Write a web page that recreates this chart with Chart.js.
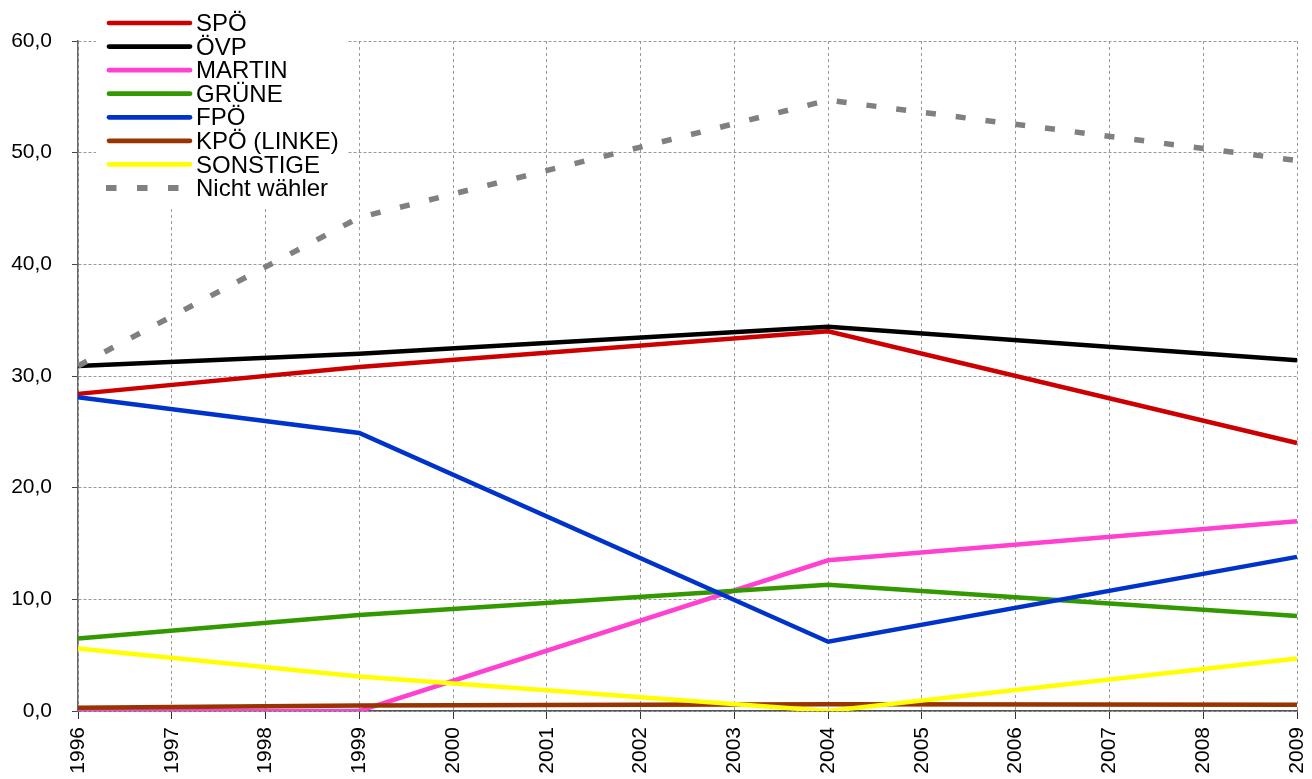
<!DOCTYPE html>
<html>
<head>
<meta charset="utf-8">
<script src="https://cdn.jsdelivr.net/npm/chart.js@4"></script>
<style>
  body { margin: 0; background: #fff; }
</style>
</head>
<body>
<canvas id="lineChart" width="1312" height="779"></canvas>
<script>
const years = ["1996", "1997", "1998", "1999", "2000", "2001", "2002",
  "2003", "2004", "2005", "2006", "2007", "2008", "2009"];
const electionYears = ["1996", "1999", "2004", "2009"];

const spo = [28.4, 30.8, 34.0, 24.0];
const ovp = [30.9, 32.0, 34.4, 31.4];
const martin = [0.0, 0.0, 13.5, 17.0];
const grune = [6.5, 8.6, 11.3, 8.5];
const fpo = [28.1, 24.9, 6.2, 13.8];
const kpo = [0.3, 0.5, 0.6, 0.55];
const sonstige = [5.6, 3.1, 0.0, 4.7];
const nichtWaehler = [30.9, 44.2, 54.7, 49.3];

const yTicks = [0, 10, 20, 30, 40, 50, 60];

// spread the election values over the yearly axis, gaps between them
function spread(values) {
  return years.map(y => {
    const i = electionYears.indexOf(y);
    return i >= 0 ? values[i] : null;
  });
}

const series = [
  { label: "SPÖ", data: spo, color: "#cc0000" },
  { label: "ÖVP", data: ovp, color: "#000000" },
  { label: "MARTIN", data: martin, color: "#ff40d0" },
  { label: "GRÜNE", data: grune, color: "#339900" },
  { label: "FPÖ", data: fpo, color: "#0033cc" },
  { label: "KPÖ (LINKE)", data: kpo, color: "#993300" },
  { label: "SONSTIGE", data: sonstige, color: "#ffff00" },
  { label: "Nicht wähler", data: nichtWaehler, color: "#808080", dash: [10, 20] },
];

const FONT = "'Liberation Sans', Arial, sans-serif";

// legend drawn over the top left corner of the plot
const boxLegend = {
  id: "boxLegend",
  afterDraw(chart) {
    const ctx = chart.ctx;
    ctx.save();
    ctx.fillStyle = "#fff";
    ctx.fillRect(96, 4, 252, 202);
    chart.data.datasets.forEach((ds, i) => {
      const y = 23 + i * 23.57;
      ctx.beginPath();
      ctx.strokeStyle = ds.borderColor;
      if (ds.borderDash.length) {
        ctx.lineWidth = 6;
        ctx.lineCap = "butt";
        ctx.setLineDash(ds.borderDash.map(v => v + 0.5));
        ctx.moveTo(106, y);
        ctx.lineTo(190, y);
      } else {
        ctx.lineWidth = 4.7;
        ctx.lineCap = "round";
        ctx.setLineDash([]);
        ctx.moveTo(109, y);
        ctx.lineTo(190, y);
      }
      ctx.stroke();
      ctx.fillStyle = "#000";
      ctx.font = "24px " + FONT;
      ctx.textBaseline = "middle";
      ctx.textAlign = "left";
      ctx.fillText(ds.label, 196, y + 1.5);
    });
    ctx.restore();
  },
};

new Chart(document.getElementById("lineChart"), {
  type: "line",
  data: {
    labels: years,
    datasets: series.map((s, i) => ({
      label: s.label,
      data: spread(s.data),
      borderColor: s.color,
      backgroundColor: s.color,
      borderWidth: s.dash ? 5.5 : 4.5,
      borderDash: s.dash || [],
      borderCapStyle: "butt",
      borderJoinStyle: "miter",
      pointRadius: 0,
      tension: 0,
      spanGaps: true,
      order: -i,
    })),
  },
  options: {
    responsive: false,
    animation: false,
    devicePixelRatio: 1,
    layout: { padding: { top: 41, right: 15, left: 0, bottom: 0 } },
    plugins: {
      legend: { display: false },
      tooltip: { enabled: false },
    },
    scales: {
      x: {
        offset: false,
        grid: {
          color: "#999",
          lineWidth: 1,
          tickColor: "#333",
          tickLength: 8,
        },
        border: { color: "#555", width: 1.5, dash: [3, 3] },
        ticks: {
          color: "#000",
          font: { family: FONT, size: 21 },
          maxRotation: 90,
          minRotation: 90,
          autoSkip: false,
          padding: 8,
        },
        afterFit(scale) {
          scale.height = 68;
          scale.paddingLeft = 0;
          scale.paddingRight = 0;
        },
      },
      y: {
        min: 0,
        max: 60,
        afterBuildTicks(scale) { scale.ticks = yTicks.map(v => ({ value: v })); },
        grid: {
          color: "#999",
          lineWidth: 1,
          tickColor: "#444",
          tickLength: 6,
        },
        border: { color: "#666", width: 1.5, dash: [3, 2] },
        ticks: {
          color: "#000",
          font: { family: FONT, size: 21 },
          padding: 20,
          callback: v => v.toFixed(1).replace(".", ","),
        },
        afterFit(scale) {
          scale.width = 78;
          scale.paddingTop = 0;
          scale.paddingBottom = 0;
        },
      },
    },
  },
  plugins: [boxLegend],
});
</script>
</body>
</html>
